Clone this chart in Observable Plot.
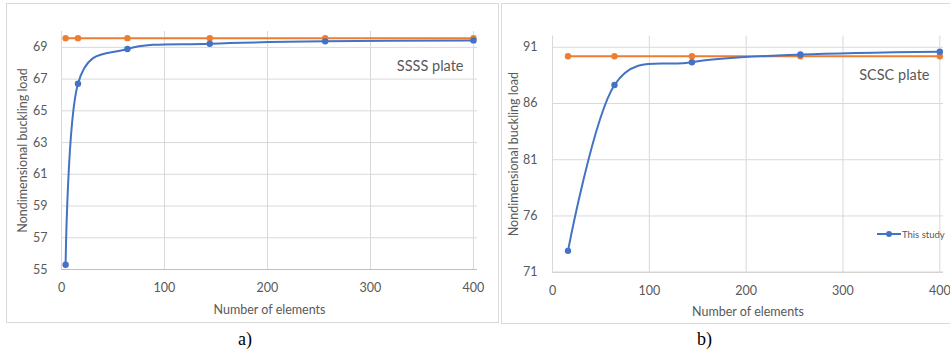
<!DOCTYPE html>
<html>
<head>
<meta charset="utf-8">
<script src="https://cdn.jsdelivr.net/npm/d3@7"></script>
<script src="https://cdn.jsdelivr.net/npm/@observablehq/plot@0.6"></script>
<style>
  html, body { margin: 0; padding: 0; background: #fff; }
  #wrap { position: relative; width: 950px; height: 355px; overflow: hidden; font-family: Lato, "Open Sans", sans-serif; }
  .panel { position: absolute; border: 1px solid #d9d9d9; box-sizing: border-box; }
  .plot { position: absolute; top: 0; }
  .caption { position: absolute; font-family: "Liberation Serif", "DejaVu Serif", serif; font-size: 18px; color: #000; }
  .legend { position: absolute; display: flex; align-items: center; font-size: 9.5px; color: #595959; }
</style>
</head>
<body>
<div id="wrap">
  <div class="panel" style="left:6px; top:3px; width:493px; height:320px;"></div>
  <div class="panel" style="left:501px; top:3px; width:460px; height:321px;"></div>
  <div id="plotA" class="plot" style="left:0px;"></div>
  <div id="plotB" class="plot" style="left:500px;"></div>
  <div class="legend" style="left:876px; top:228px;">
    <svg width="26" height="12"><line x1="1" y1="6" x2="25" y2="6" stroke="#4472C4" stroke-width="2"/><circle cx="13" cy="6" r="3" fill="#4472C4"/></svg>
    <span>This study</span>
  </div>
  <div class="caption" style="left:238px; top:329px;">a)</div>
  <div class="caption" style="left:697px; top:329px;">b)</div>
</div>
<script>
// ---- Data ----
const elementsA = [4, 16, 64, 144, 256, 400];
const thisStudyA = [55.3, 66.71, 68.9, 69.23, 69.38, 69.44];
const referenceA = [69.58, 69.58, 69.58, 69.58, 69.58, 69.58];

const elementsB = [16, 64, 144, 256, 400];
const thisStudyB = [72.9, 87.65, 89.67, 90.35, 90.61];
const referenceB = [90.2, 90.2, 90.2, 90.2, 90.2];

const xTicks = [0, 100, 200, 300, 400];
const yTicksA = [55, 57, 59, 61, 63, 65, 67, 69];
const yTicksB = [71, 76, 81, 86, 91];

const BLUE = "#4472C4", ORANGE = "#ED7D31", GRID = "#d9d9d9", AXIS = "#bfbfbf", TEXT = "#595959";

function rows(xs, ys) { return xs.map((x, i) => ({x, y: ys[i]})); }

function makePanel(opts) {
  const blue = rows(opts.elements, opts.thisStudy);
  const orange = rows(opts.elements, opts.reference);
  return Plot.plot({
    width: opts.width,
    height: opts.height,
    marginLeft: opts.ml,
    marginRight: opts.mr,
    marginTop: opts.mt,
    marginBottom: opts.mb,
    style: {fontFamily: "Lato, 'Open Sans', sans-serif", fontSize: "12.5px", color: TEXT, background: "transparent", overflow: "visible"},
    x: {domain: opts.xDomain, ticks: xTicks},
    y: {domain: opts.yDomain, ticks: opts.yTicks},
    marks: [
      Plot.gridY(opts.yTicks.slice(1), {stroke: GRID, strokeOpacity: 1, strokeWidth: 1}),
      Plot.gridX(xTicks, {stroke: GRID, strokeOpacity: 1, strokeWidth: 1}),
      Plot.ruleY([opts.yDomain[0]], {stroke: AXIS, strokeWidth: 1}),
      Plot.axisY(opts.yTicks, {tickSize: 0, tickPadding: opts.yPad, label: null, fill: TEXT}),
      Plot.axisX(xTicks, {tickSize: 0, tickPadding: 14, label: null, fill: TEXT}),
      Plot.text(["Nondimensional buckling load"], {frameAnchor: "left", rotate: -90, dx: opts.yLabelDx, fill: TEXT, fontSize: 12.5, lineAnchor: "middle", textAnchor: "middle"}),
      Plot.text(["Number of elements"], {frameAnchor: "bottom", dy: 40, fill: TEXT, fontSize: 12.5, lineAnchor: "middle", textAnchor: "middle"}),
      Plot.text([opts.plateLabel], {frameAnchor: "top-right", dx: -14, dy: opts.plateDy, fill: TEXT, fontSize: 14.5, lineAnchor: "middle", textAnchor: "end"}),
      Plot.line(orange, {x: "x", y: "y", stroke: ORANGE, strokeWidth: 2, curve: "cardinal"}),
      Plot.dot(orange, {x: "x", y: "y", fill: ORANGE, r: 3.2}),
      Plot.line(blue, {x: "x", y: "y", stroke: BLUE, strokeWidth: 2, curve: "cardinal"}),
      Plot.dot(blue, {x: "x", y: "y", fill: BLUE, r: 3.2})
    ]
  });
}

document.getElementById("plotA").appendChild(makePanel({
  elements: elementsA, thisStudy: thisStudyA, reference: referenceA,
  width: 498, height: 322, ml: 61, mr: 21, mt: 31, mb: 53,
  xDomain: [0, 403.9], yDomain: [55, 70], yTicks: yTicksA, yPad: 14,
  yLabelDx: -39, plateLabel: "SSSS plate", plateDy: 35
}));

document.getElementById("plotB").appendChild(makePanel({
  elements: elementsB, thisStudy: thisStudyB, reference: referenceB,
  width: 450, height: 325, ml: 52, mr: 7, mt: 35.5, mb: 53.3,
  xDomain: [0, 403.8], yDomain: [71, 92], yTicks: yTicksB, yPad: 15,
  yLabelDx: -39, plateLabel: "SCSC plate", plateDy: 39.5
}));
</script>
</body>
</html>
